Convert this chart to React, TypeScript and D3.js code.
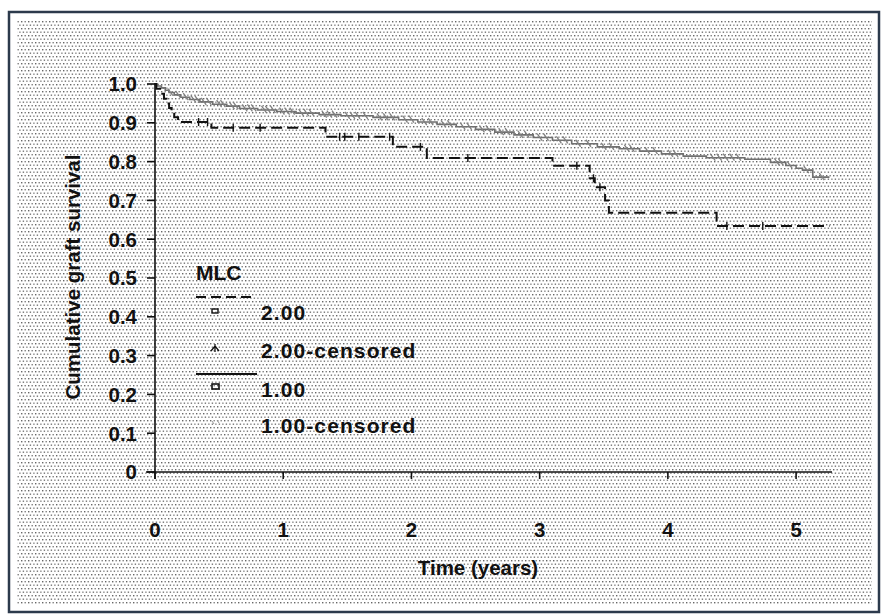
import React from "react";
import * as d3 from "d3";

// Kaplan–Meier step data: [time in years, cumulative survival after the event]
const mlc2Steps: [number, number][] = [
  [0, 1.0],
  [0.01, 0.988],
  [0.04, 0.975],
  [0.07, 0.962],
  [0.09, 0.95],
  [0.11, 0.938],
  [0.13, 0.926],
  [0.15, 0.914],
  [0.18, 0.902],
  [0.44, 0.887],
  [1.33, 0.864],
  [1.855, 0.838],
  [2.12, 0.809],
  [3.1, 0.789],
  [3.39, 0.757],
  [3.43, 0.734],
  [3.51, 0.7],
  [3.54, 0.668],
  [4.38, 0.634],
];
const mlc2Censored: number[] = [
  0.34, 0.41, 0.61, 0.82, 1.44, 1.48, 1.59, 1.83, 2.07, 2.44, 3.29, 3.42, 3.47,
  4.46, 4.74,
];

const mlc1Steps: [number, number][] = [
  [0, 1.0],
  [0.02, 0.995],
  [0.05, 0.99],
  [0.08, 0.984],
  [0.11, 0.978],
  [0.15, 0.972],
  [0.2, 0.966],
  [0.27, 0.96],
  [0.35, 0.954],
  [0.45, 0.948],
  [0.56, 0.943],
  [0.66, 0.937],
  [0.8, 0.933],
  [0.95, 0.929],
  [1.1, 0.925],
  [1.28, 0.921],
  [1.45, 0.918],
  [1.7, 0.914],
  [1.9, 0.908],
  [2.05, 0.902],
  [2.2, 0.896],
  [2.35, 0.89],
  [2.5, 0.883],
  [2.65, 0.876],
  [2.8, 0.869],
  [2.95, 0.862],
  [3.1, 0.855],
  [3.25, 0.846],
  [3.45, 0.838],
  [3.62, 0.833],
  [3.78, 0.827],
  [3.95, 0.82],
  [4.12, 0.814],
  [4.3, 0.81],
  [4.6, 0.806],
  [4.8, 0.798],
  [4.92, 0.79],
  [5.0, 0.783],
  [5.05, 0.778],
  [5.13, 0.76],
];
const mlc1Censored: number[] = [
  0.12, 0.18, 0.24, 0.3, 0.33, 0.38, 0.42, 0.5, 0.53, 0.6, 0.63, 0.7, 0.74,
  0.77, 0.85, 0.88, 0.92, 0.99, 1.03, 1.07, 1.14, 1.18, 1.22, 1.32, 1.36, 1.4,
  1.5, 1.54, 1.58, 1.64, 1.75, 1.8, 1.85, 1.95, 2.0, 2.1, 2.15, 2.25, 2.3,
  2.4, 2.45, 2.55, 2.6, 2.7, 2.75, 2.85, 2.9, 3.0, 3.05, 3.15, 3.2, 3.3, 3.38,
  3.5, 3.56, 3.68, 3.72, 3.84, 3.9, 4.02, 4.06, 4.35, 4.4, 4.45, 4.5, 4.55,
  4.85, 4.88, 4.95, 5.08, 5.2,
];

const xTicks = [0, 1, 2, 3, 4, 5];
const yTicks = [0, 0.1, 0.2, 0.3, 0.4, 0.5, 0.6, 0.7, 0.8, 0.9, 1.0];
const yTickLabels = ["0", "0.1", "0.2", "0.3", "0.4", "0.5", "0.6", "0.7", "0.8", "0.9", "1.0"];
const tMax = 5.28;

const legendTitle = "MLC";
const legendLabels = ["2.00", "2.00-censored", "1.00", "1.00-censored"];
const xTitle = "Time (years)";
const yTitle = "Cumulative graft survival";

const FONT = "'Liberation Sans', Arial, Helvetica, sans-serif";

function survivalAt(steps: [number, number][], t: number): number {
  let s = steps[0][1];
  for (const [ti, si] of steps) {
    if (ti <= t) s = si;
    else break;
  }
  return s;
}

export default function App() {
  const x = d3.scaleLinear().domain([0, tMax]).range([155, 832]);
  const y = d3.scaleLinear().domain([0, 1]).range([472, 84]);

  const line = d3
    .line<[number, number]>()
    .x((d) => x(d[0]))
    .y((d) => y(d[1]))
    .curve(d3.curveStepAfter);

  const withEnd = (steps: [number, number][]) =>
    [...steps, [tMax - 0.02, steps[steps.length - 1][1]]] as [number, number][];

  const mlc2Path = line(withEnd(mlc2Steps)) || "";
  const mlc1Path = line(withEnd(mlc1Steps)) || "";

  const legendX = 196;
  const rowY = [320, 358, 397, 433];

  return (
    <svg
      width={881}
      height={614}
      style={{ position: "absolute", left: 0, top: 0, background: "#fff" }}
      fontFamily={FONT}
    >
      <defs>
        <pattern id="halftone" width={7} height={7} patternUnits="userSpaceOnUse">
          <rect x={0} y={0} width={1.4} height={1.4} fill="#666" />
          <rect x={3.5} y={0} width={1.4} height={1.4} fill="#7e7e7e" />
          <rect x={1.7} y={3.5} width={1.4} height={1.4} fill="#737373" />
          <rect x={5.2} y={3.5} width={1.4} height={1.4} fill="#858585" />
        </pattern>
      </defs>

      {/* frame and dotted paper */}
      <rect x={9} y={12} width={870} height={600} fill="#fff" stroke="#2c3a4c" strokeWidth={2.5} />
      <rect x={17} y={21} width={855} height={584} fill="url(#halftone)" />

      {/* axes */}
      <line x1={155} x2={155} y1={83} y2={479} stroke="#111" strokeWidth={1.6} />
      <line x1={146} x2={x(tMax)} y1={472} y2={472} stroke="#111" strokeWidth={1.6} />
      {yTicks.map((v, i) => (
        <g key={"y" + i}>
          <line x1={147} x2={155} y1={y(v)} y2={y(v)} stroke="#111" strokeWidth={1.6} />
          <text
            x={137}
            y={y(v)}
            dy="0.36em"
            textAnchor="end"
            fontSize={20.5}
            fontWeight="bold"
            fill="#111"
          >
            {yTickLabels[i]}
          </text>
        </g>
      ))}
      {xTicks.map((v) => (
        <g key={"x" + v}>
          <line x1={x(v)} x2={x(v)} y1={472} y2={479} stroke="#111" strokeWidth={1.6} />
          <text
            x={x(v)}
            y={537}
            textAnchor="middle"
            fontSize={20.5}
            fontWeight="bold"
            fill="#111"
          >
            {v}
          </text>
        </g>
      ))}
      <text x={478} y={575} textAnchor="middle" fontSize={20.5} fontWeight="bold" fill="#111">
        {xTitle}
      </text>
      <text
        transform="translate(80,277) rotate(-90)"
        textAnchor="middle"
        fontSize={20.5}
        fontWeight="bold"
        fill="#111"
      >
        {yTitle}
      </text>

      {/* MLC 1.00: solid, printed grey */}
      <path d={mlc1Path} fill="none" stroke="#707070" strokeWidth={1.6} />
      {mlc1Censored.map((t, i) => {
        const cy = y(survivalAt(mlc1Steps, t));
        return (
          <line
            key={"c1" + i}
            x1={x(t) - 2.5}
            x2={x(t) + 2.5}
            y1={cy - 4}
            y2={cy + 3}
            stroke="#808080"
            strokeWidth={1.3}
          />
        );
      })}

      {/* MLC 2.00: dashed, black */}
      <path d={mlc2Path} fill="none" stroke="#111" strokeWidth={2} strokeDasharray="11,5" />
      {mlc2Censored.map((t, i) => {
        const cy = y(survivalAt(mlc2Steps, t));
        return (
          <line
            key={"c2" + i}
            x1={x(t)}
            x2={x(t)}
            y1={cy - 4}
            y2={cy + 4}
            stroke="#111"
            strokeWidth={1.4}
          />
        );
      })}

      {/* legend */}
      <text x={legendX} y={280} fontSize={21} fontWeight="bold" fill="#111">
        {legendTitle}
      </text>
      <line x1={legendX} x2={256} y1={297} y2={297} stroke="#111" strokeWidth={1.8} strokeDasharray="10,5" />
      <line x1={legendX} x2={257} y1={374} y2={374} stroke="#111" strokeWidth={1.8} />
      <rect x={212} y={309} width={6} height={4} fill="none" stroke="#111" strokeWidth={1.4} />
      <path d="M211,351 L215,346 L219,351 M215,344 L215,352" fill="none" stroke="#111" strokeWidth={1.3} />
      <rect x={212} y={384} width={7} height={5} fill="none" stroke="#111" strokeWidth={1.6} />
      <path d="M212,421 L214,424 M217,420 L219,423" fill="none" stroke="#999" strokeWidth={1} />
      {legendLabels.map((lab, i) => (
        <text
          key={lab}
          x={261}
          y={rowY[i]}
          fontSize={21}
          fontWeight="bold"
          letterSpacing={1.1}
          fill="#111"
        >
          {lab}
        </text>
      ))}
    </svg>
  );
}
